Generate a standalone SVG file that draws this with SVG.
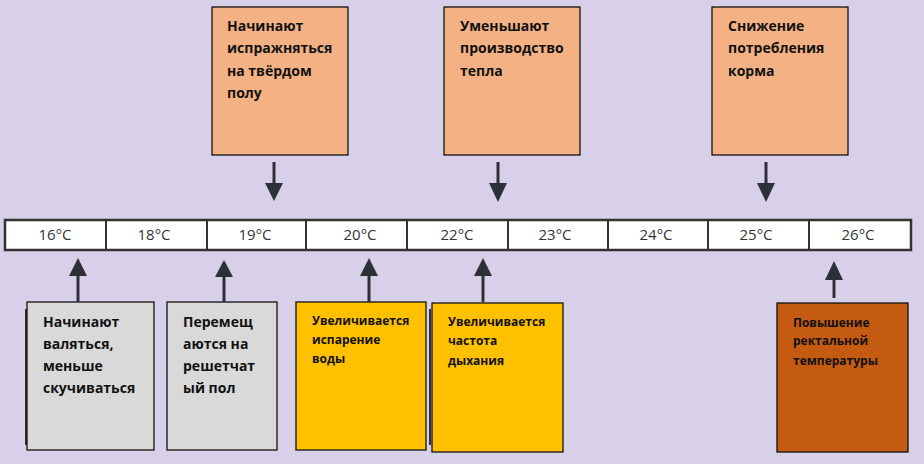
<svg xmlns="http://www.w3.org/2000/svg" width="924" height="464" viewBox="0 0 924 464">
<defs>
<style>
.bg{fill:#D8D0E8}
.box{stroke:#111;stroke-width:1.3}
.peach{fill:#F4B183}
.grey{fill:#D9D9D9}
.yel{fill:#FFC000}
.brown{fill:#C55A11}
.t{font-family:"Open Sans","DejaVu Sans",sans-serif;font-weight:bold;fill:#111}
.big{font-size:14px}
.small{font-size:12px}
.temp{font-family:"Open Sans","Liberation Sans",sans-serif;font-size:15px;fill:#333;text-anchor:middle}
.conn line{stroke:#2E3038;stroke-width:3}
.conn polygon{fill:#2E3038}
.shadow{stroke:#333;stroke-width:2}
</style>
</defs>
<rect class="bg" x="0" y="0" width="924" height="464"/>

<g id="scale">
<rect x="5" y="220" width="906" height="30" fill="#fff" stroke="#333" stroke-width="2.5"/>
<g stroke="#333" stroke-width="2">
<line x1="106" y1="220" x2="106" y2="250"/>
<line x1="207" y1="220" x2="207" y2="250"/>
<line x1="306" y1="220" x2="306" y2="250"/>
<line x1="407" y1="220" x2="407" y2="250"/>
<line x1="508" y1="220" x2="508" y2="250"/>
<line x1="608" y1="220" x2="608" y2="250"/>
<line x1="708" y1="220" x2="708" y2="250"/>
<line x1="809" y1="220" x2="809" y2="250"/>
</g>
<text class="temp" x="55" y="239.5">16°C</text>
<text class="temp" x="154" y="239.5">18°C</text>
<text class="temp" x="255" y="239.5">19°C</text>
<text class="temp" x="360" y="239.5">20°C</text>
<text class="temp" x="457" y="239.5">22°C</text>
<text class="temp" x="555" y="239.5">23°C</text>
<text class="temp" x="656" y="239.5">24°C</text>
<text class="temp" x="756" y="239.5">25°C</text>
<text class="temp" x="858" y="239.5">26°C</text>
</g>

<g id="top1">
<rect class="box peach" x="212" y="7" width="136" height="148"/>
<text class="t big" x="227" y="31">Начинают</text>
<text class="t big" x="227" y="53">испражняться</text>
<text class="t big" x="227" y="76">на твёрдом</text>
<text class="t big" x="227" y="98">полу</text>
</g>
<g id="top2">
<rect class="box peach" x="444" y="7" width="136" height="148"/>
<text class="t big" x="460" y="31">Уменьшают</text>
<text class="t big" x="460" y="53">производство</text>
<text class="t big" x="460" y="76">тепла</text>
</g>
<g id="top3">
<rect class="box peach" x="712" y="7" width="136" height="148"/>
<text class="t big" x="728" y="31">Снижение</text>
<text class="t big" x="728" y="53">потребления</text>
<text class="t big" x="728" y="76">корма</text>
</g>

<g id="bot1">
<line class="shadow" x1="26" y1="309" x2="26" y2="445"/>
<rect class="box grey" x="27" y="302" width="127" height="148"/>
<text class="t big" x="43" y="327">Начинают</text>
<text class="t big" x="43" y="349">валяться,</text>
<text class="t big" x="43" y="371">меньше</text>
<text class="t big" x="43" y="393">скучиваться</text>
</g>
<g id="bot2">
<rect class="box grey" x="167" y="302" width="110" height="148"/>
<text class="t big" x="183" y="327">Перемещ</text>
<text class="t big" x="183" y="349">аются на</text>
<text class="t big" x="183" y="371">решетчат</text>
<text class="t big" x="183" y="393">ый пол</text>
</g>
<g id="bot3">
<rect class="box yel" x="296" y="302" width="130" height="148"/>
<text class="t small" x="312" y="325">Увеличивается</text>
<text class="t small" x="312" y="344">испарение</text>
<text class="t small" x="312" y="363">воды</text>
</g>
<g id="bot4">
<line class="shadow" x1="430" y1="309" x2="430" y2="445"/>
<rect class="box yel" x="432" y="303" width="131" height="149"/>
<text class="t small" x="448" y="326">Увеличивается</text>
<text class="t small" x="448" y="345">частота</text>
<text class="t small" x="448" y="365">дыхания</text>
</g>
<g id="bot5">
<rect class="box brown" x="777" y="303" width="131" height="149"/>
<text class="t small" x="793" y="327">Повышение</text>
<text class="t small" x="793" y="345">ректальной</text>
<text class="t small" x="793" y="365">температуры</text>
</g>

<g id="connectors" class="conn">
<line x1="274" y1="162" x2="274" y2="185"/><polygon points="265,183 283,183 274,201"/>
<line x1="498" y1="162" x2="498" y2="185"/><polygon points="489,183 507,183 498,202"/>
<line x1="766" y1="162" x2="766" y2="185"/><polygon points="757,183 775,183 766,202"/>
<line x1="78" y1="274" x2="78" y2="302"/><polygon points="69,276 87,276 78,258"/>
<line x1="224" y1="274" x2="224" y2="302"/><polygon points="215,277 233,277 224,260"/>
<line x1="369" y1="274" x2="369" y2="302"/><polygon points="360,276 378,276 369,258"/>
<line x1="483" y1="274" x2="483" y2="302"/><polygon points="474,276 492,276 483,258"/>
<line x1="834" y1="278" x2="834" y2="298"/><polygon points="825,280 843,280 834,261"/>
</g>
</svg>
